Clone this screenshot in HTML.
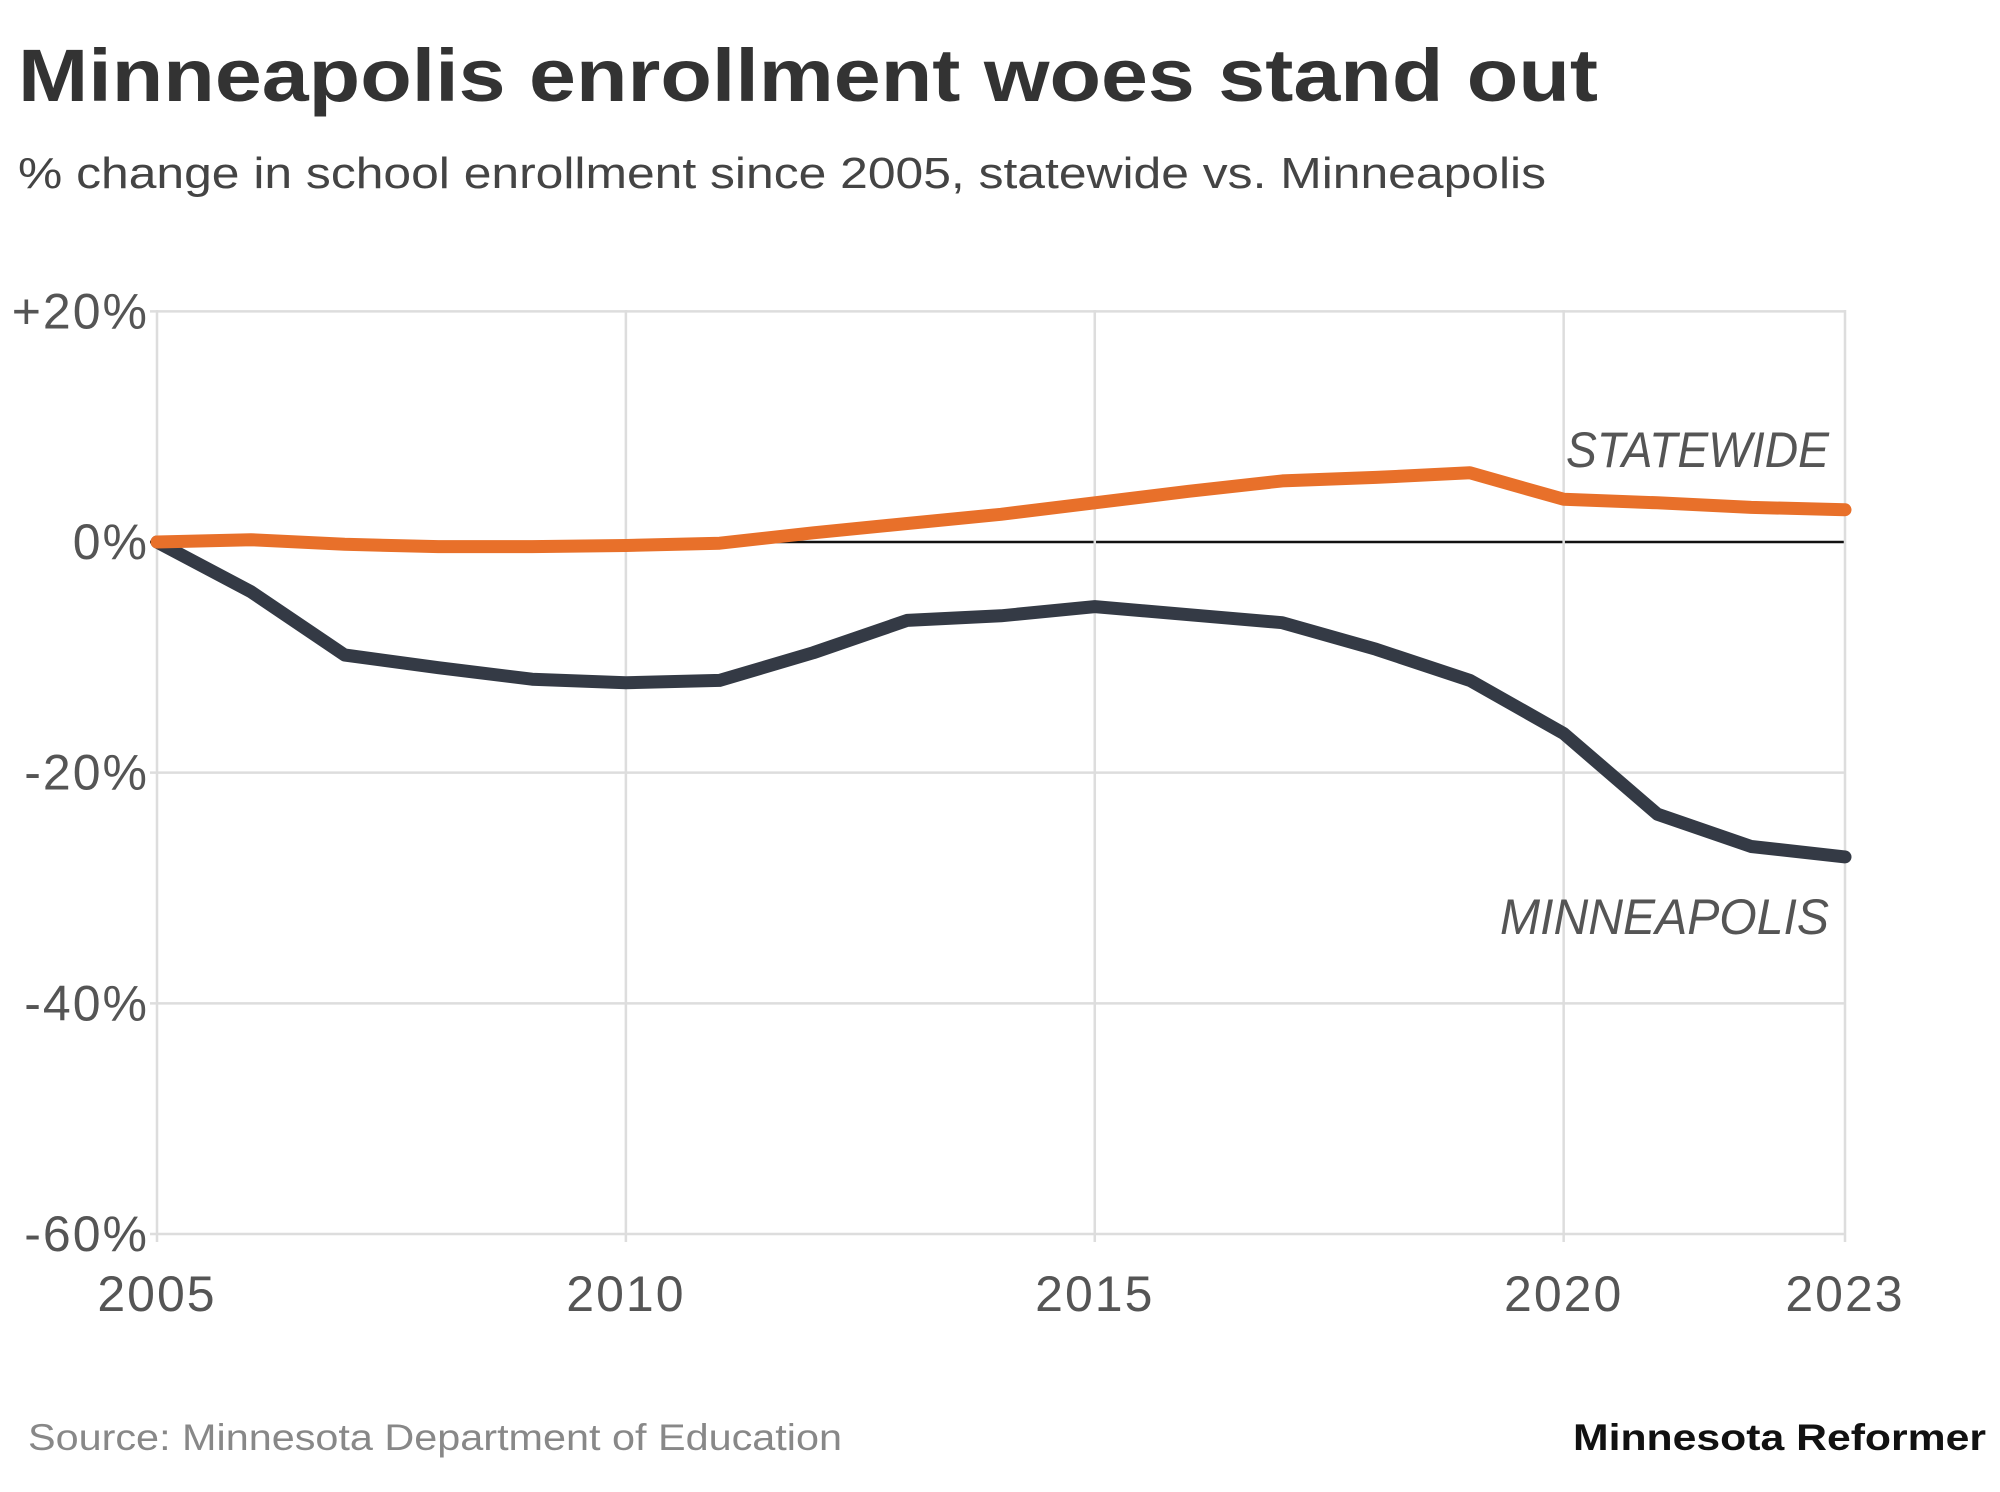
<!DOCTYPE html>
<html><head><meta charset="utf-8"><style>
html,body{margin:0;padding:0;background:#fff;width:2000px;height:1492px;overflow:hidden}
svg{display:block}
</style></head><body>
<svg id="chart" width="2000" height="1492" xmlns="http://www.w3.org/2000/svg">
<text x="18" y="101" font-family="Liberation Sans, sans-serif" font-weight="bold" font-size="74" fill="#333" textLength="1580" lengthAdjust="spacingAndGlyphs">Minneapolis enrollment woes stand out</text>
<text x="18" y="188" font-family="Liberation Sans, sans-serif" font-size="44" fill="#444" textLength="1528" lengthAdjust="spacingAndGlyphs">% change in school enrollment since 2005, statewide vs. Minneapolis</text>
<g id="grid"></g>
<g id="lines"></g>
<text x="1566" y="467" font-family="Liberation Sans, sans-serif" font-style="italic" font-size="50" fill="#555" textLength="263" lengthAdjust="spacingAndGlyphs">STATEWIDE</text>
<text x="1500" y="934" font-family="Liberation Sans, sans-serif" font-style="italic" font-size="50" fill="#555" textLength="329" lengthAdjust="spacingAndGlyphs">MINNEAPOLIS</text>
<text x="28" y="1450" font-family="Liberation Sans, sans-serif" font-size="37" fill="#888" textLength="814" lengthAdjust="spacingAndGlyphs">Source: Minnesota Department of Education</text>
<text x="1573" y="1450" font-family="Liberation Sans, sans-serif" font-weight="bold" font-size="37" fill="#111" textLength="413" lengthAdjust="spacingAndGlyphs">Minnesota Reformer</text>
</svg>
<script>
const years = [2005,2006,2007,2008,2009,2010,2011,2012,2013,2014,2015,2016,2017,2018,2019,2020,2021,2022,2023];
const statewide = [0,0.2,-0.2,-0.4,-0.4,-0.3,-0.1,0.8,1.6,2.4,3.4,4.4,5.3,5.6,6.0,3.7,3.4,3.0,2.8];
const minneapolis = [0,-4.3,-9.8,-10.9,-11.9,-12.2,-12.0,-9.6,-6.8,-6.4,-5.6,-6.3,-7.0,-9.3,-12.0,-16.6,-23.6,-26.4,-27.3];
const yTicks = [20,0,-20,-40,-60];
const yTickLabels = ["+20%","0%","-20%","-40%","-60%"];
const xTicks = [2005,2010,2015,2020,2023];

const NS = "http://www.w3.org/2000/svg";
const x = v => 157 + (v - 2005) * (1845 - 157) / 18;
const y = v => 542 - v * (1234 - 542) / 60;
function mk(tag, attrs, parent){const e=document.createElementNS(NS,tag);for(const k in attrs)e.setAttribute(k,attrs[k]);parent.appendChild(e);return e;}
const grid = document.getElementById('grid');
const lines = document.getElementById('lines');
yTicks.forEach((t,i)=>{
  const l = mk('line',{x1:150,x2:1845,y1:y(t),y2:y(t),stroke:t===0?'#111':'#ddd','stroke-width':2.5},grid);
  
  
  const tx = mk('text',{x:149,y:y(t)+17,'text-anchor':'end','font-family':'Liberation Sans, sans-serif','font-size':50,fill:'#555','letter-spacing':2},grid);
  tx.textContent = yTickLabels[i];
  
  
});
xTicks.forEach(t=>{
  const l = mk('line',{x1:x(t),x2:x(t),y1:310,y2:1242,stroke:'#ddd','stroke-width':2.5},grid);
  
  
  const tx = mk('text',{x:x(t),y:1311,'text-anchor':'middle','font-family':'Liberation Sans, sans-serif','font-size':50,fill:'#555','letter-spacing':2},grid);
  tx.textContent = t;
  
  
});
function series(vals,color,name){
  const d = vals.map((v,i)=>(i?'L':'M')+x(years[i]).toFixed(1)+','+y(v).toFixed(1)).join(' ');
  const p = mk('path',{d:d,fill:'none',stroke:color,'stroke-width':13,'stroke-linejoin':'round','stroke-linecap':'round'},lines);
  
  
}
series(minneapolis,'#343a45','minneapolis-line');
series(statewide,'#e8702a','statewide-line');
</script>
</body></html>
